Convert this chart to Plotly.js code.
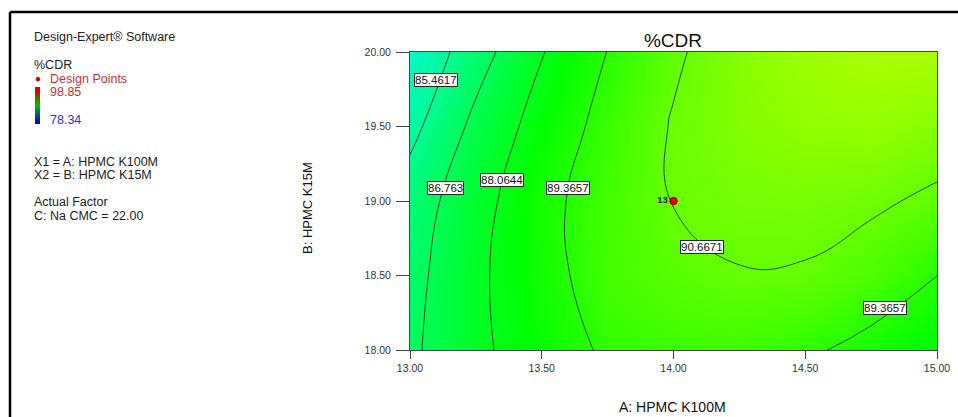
<!DOCTYPE html>
<html>
<head>
<meta charset="utf-8">
<script src="https://cdn.plot.ly/plotly-3.0.1.min.js"></script>
<style>html,body{margin:0;padding:0;background:#fff;}#chart{width:958px;height:417px;}</style>
</head>
<body>
<div id="chart"></div>
<script>
// ---- data ----
const factorA = [13, 13.25, 13.5, 13.75, 14, 14.25, 14.5, 14.75, 15];   // A: HPMC K100M
const factorB = [18, 18.5, 19, 19.5, 20];                              // B: HPMC K15M
const cdr = [                                                          // %CDR estimated on the grid
  [86.53, 87.82, 88.71, 89.55, 89.80, 89.82, 89.55, 89.00, 88.40],
  [86.35, 87.83, 88.95, 89.92, 90.35, 90.62, 90.58, 90.12, 89.37],
  [86.09, 87.58, 89.04, 89.92, 90.70, 90.95, 91.00, 90.85, 90.45],
  [85.08, 87.09, 88.58, 89.77, 90.75, 91.20, 91.45, 91.55, 91.30],
  [84.28, 86.22, 88.00, 89.39, 90.50, 91.30, 91.75, 92.00, 92.00]
];
const contourLevels = [85.4617, 86.763, 88.0644, 89.3657, 90.6671];
const labelLevels = [85.4617, 86.763, 88.0644, 89.3657, 90.6671, 89.3657];
const labelA = [13.099, 13.135, 13.349, 13.600, 14.108, 14.803];
const labelB = [19.815, 19.087, 19.141, 19.087, 18.688, 18.282];
const designA = [14.0];
const designB = [19.0];
const designRun = ['13'];
const cdrMin = 78.34, cdrMax = 98.85;
const xTicks = [13, 13.5, 14, 14.5, 15];
const yTicks = [18, 18.5, 19, 19.5, 20];
const legendBar = [[0], [1], [2], [3], [4]];

// ---- layout helpers ----
const W = 958, H = 417;
const L = 410, R = 937, T = 52, B = 350;
const px = x => x / W;
const py = y => 1 - y / H;
const FONT = 'Liberation Sans, Arial, sans-serif';

const mainScale = [[0, '#0000ff'], [0.25, '#00f8f0'], [0.5, '#00ff00'], [0.75, '#ffff00'], [1, '#ff0000']];

const traces = [
  {
    type: 'heatmap', x: factorA, y: factorB, z: cdr,
    zmin: cdrMin, zmax: cdrMax, zsmooth: 'best',
    colorscale: mainScale, showscale: false, hoverinfo: 'skip'
  },
  {
    type: 'contour', x: factorA, y: factorB, z: cdr,
    autocontour: false,
    contours: {start: contourLevels[0], end: contourLevels[contourLevels.length - 1],
               size: (contourLevels[contourLevels.length - 1] - contourLevels[0]) / (contourLevels.length - 1),
               coloring: 'none'},
    line: {color: '#1a1a1a', width: 0.8, smoothing: 1.3},
    showscale: false, hoverinfo: 'skip'
  },
  {
    type: 'scatter', mode: 'markers+text', x: designA, y: designB, text: designRun,
    textposition: 'middle left',
    textfont: {family: FONT, size: 9.5, color: '#111', weight: 'bold'},
    marker: {color: '#e00000', size: 7.5, line: {color: '#900000', width: 1}},
    cliponaxis: false, hoverinfo: 'skip'
  },
  {
    type: 'heatmap', z: legendBar,
    xaxis: 'x2', yaxis: 'y2', zsmooth: 'best', showscale: false, hoverinfo: 'skip',
    colorscale: [[0, '#0010c0'], [0.5, '#00c000'], [0.75, '#507000'], [1, '#e00000']]
  }
];

const annotations = [];
labelLevels.forEach((v, i) => {
  annotations.push({
    x: labelA[i], y: labelB[i], xref: 'x', yref: 'y', text: String(v), showarrow: false,
    bgcolor: '#ffffff', bordercolor: '#222', borderwidth: 1, borderpad: 0,
    font: {family: FONT, size: 11.5, color: '#111'}
  });
});
function txt(t, x, y, opts) {
  annotations.push(Object.assign({
    text: t, x: px(x), y: py(y), xref: 'paper', yref: 'paper', showarrow: false,
    xanchor: 'left', yanchor: 'middle',
    font: {family: FONT, size: 12.5, color: '#222'}
  }, opts || {}));
}
txt('Design-Expert® Software', 32, 37);
txt('%CDR', 32, 65);
txt('●', 33, 79, {font: {family: FONT, size: 10, color: '#c00000'}});
txt('Design Points', 48, 79, {font: {family: FONT, size: 12.5, color: '#d03030'}});
txt(String(cdrMax), 48, 92, {font: {family: FONT, size: 12.5, color: '#d03030'}});
txt(String(cdrMin), 48, 120, {font: {family: FONT, size: 12.5, color: '#3030c0'}});
txt('X1 = A: HPMC K100M', 32, 162);
txt('X2 = B: HPMC K15M', 32, 175);
txt('Actual Factor', 32, 202);
txt('C: Na CMC = 22.00', 32, 216);
txt('A: HPMC K100M', 672, 407, {xanchor: 'center', font: {family: FONT, size: 14, color: '#111'}});
txt('B: HPMC K15M', 307, 208, {xanchor: 'center', textangle: -90, font: {family: FONT, size: 13, color: '#111'}});

const axisCommon = {
  tickformat: '.2f', ticks: 'outside', tickcolor: '#444', showline: true, mirror: true,
  linecolor: '#444', linewidth: 1, showgrid: false, zeroline: false,
  tickfont: {family: FONT, size: 10.5, color: '#333'}
};

const layout = {
  width: W, height: H,
  margin: {l: 0, r: 0, t: 0, b: 0, pad: 0},
  paper_bgcolor: '#ffffff', plot_bgcolor: '#ffffff',
  showlegend: false,
  title: {text: '%CDR', x: 673 / W, xanchor: 'center', y: 1 - 40 / H, yanchor: 'middle',
          font: {family: FONT, size: 19, color: '#111'}},
  xaxis: Object.assign({}, axisCommon, {domain: [L / W, R / W], anchor: 'y', range: [13, 15],
          tickvals: xTicks, ticklen: 8}),
  yaxis: Object.assign({}, axisCommon, {domain: [1 - B / H, 1 - T / H], anchor: 'x', range: [18, 20],
          tickvals: yTicks, ticklen: 13, ticklabelstandoff: 3}),
  xaxis2: {domain: [35 / W, 40 / W], anchor: 'y2', visible: false, fixedrange: true},
  yaxis2: {domain: [1 - 124 / H, 1 - 87 / H], anchor: 'x2', visible: false, fixedrange: true},
  annotations: annotations,
  shapes: [
    {type: 'line', xref: 'paper', yref: 'paper', x0: px(10), x1: px(958), y0: py(12), y1: py(12),
     line: {color: '#000', width: 2.5}},
    {type: 'line', xref: 'paper', yref: 'paper', x0: px(10), x1: px(10), y0: py(12), y1: py(417),
     line: {color: '#000', width: 2.5}}
  ]
};

Plotly.newPlot('chart', traces, layout, {staticPlot: true, displayModeBar: false});
</script>
</body>
</html>
